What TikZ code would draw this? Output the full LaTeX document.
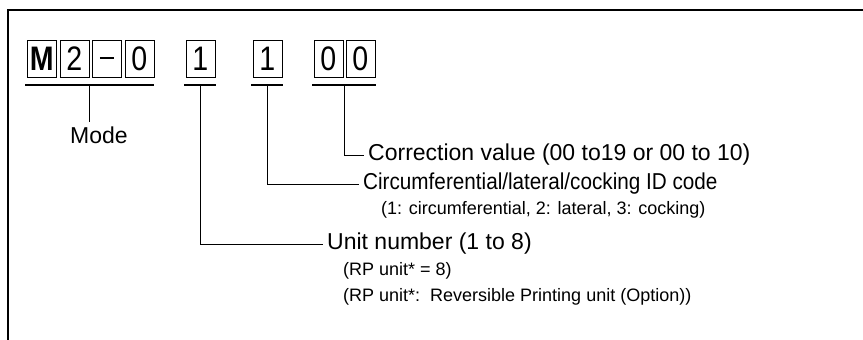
\documentclass[tikz,border=0pt]{standalone}
\usepackage{fontspec}
\setmainfont{Liberation Sans}
\usepackage{graphicx}
\newcommand{\cnd}[1]{\scalebox{0.84}[1]{#1}}
\newcommand{\hsc}[2]{\scalebox{#1}[1]{#2}}
\begin{document}
\begin{tikzpicture}[x=1pt,y=-1pt,
  charbox/.style={draw, line width=0.6pt, minimum width=29pt, minimum height=37pt, inner sep=0pt, anchor=north west, font=\fontsize{34}{34}\selectfont},
  uline/.style={line width=1.5pt},
  conn/.style={line width=0.6pt},
  frame/.style={line width=1.1pt},
  lbl/.style={anchor=west, inner sep=0pt, font=\fontsize{23}{27}\selectfont},
  sublbl/.style={anchor=west, inner sep=0pt, font=\fontsize{18}{21}\selectfont}
]
\useasboundingbox (0,0) rectangle (863,340);
% frame (top and left only)
\coordinate (ftl) at (8,10);
\coordinate (ftr) at (863,10);
\coordinate (fbl) at (8,340);
\draw[frame] (ftr) -- (ftl) -- (fbl);

% character boxes
\node[charbox] (bM) at (27,40) {\cnd{\textbf{M}}};
\node[charbox] (b2) at (59.5,40) {\cnd{2}};
\node[charbox] (bd) at (92,40) {\cnd{\vphantom{0}\rule[0.33em]{0.48em}{1.8pt}}};
\node[charbox] (b0) at (124.5,40) {\cnd{0}};
\node[charbox] (b1a) at (185.5,40) {\cnd{1}};
\node[charbox] (b1b) at (252.5,40) {\cnd{1}};
\node[charbox] (b00a) at (313.5,40) {\cnd{0}};
\node[charbox] (b00b) at (345.5,40) {\cnd{0}};

% underlines
\coordinate (u1l) at (25,85);  \coordinate (u1r) at (154,85);
\coordinate (u2l) at (184,85); \coordinate (u2r) at (216,85);
\coordinate (u3l) at (251,85); \coordinate (u3r) at (283,85);
\coordinate (u4l) at (312,85); \coordinate (u4r) at (376,85);
\draw[uline] (u1l) -- (u1r);
\draw[uline] (u2l) -- (u2r);
\draw[uline] (u3l) -- (u3r);
\draw[uline] (u4l) -- (u4r);

% labels
\node[lbl] (mode) at (70,135) {Mode};
\node[lbl] (corr) at (368,155) {Correction value (00 to19 or 00 to 10)};
\node[lbl] (circ) at (363,184) {\hsc{0.9}{Circumferential/lateral/cocking ID code}};
\node[sublbl] (circsub) at (381,210) {(1: circumferential, 2: lateral, 3: cocking)};
\node[lbl] (unit) at (327,244) {Unit number (1 to 8)};
\node[sublbl] (rp1) at (343,271) {(RP unit* = 8)};
\node[sublbl] (rp2) at (343,297) {(RP unit*:\ \ Reversible Printing unit (Option))};

% connectors
\coordinate (c1) at (89,85);
\coordinate (c2) at (200,85);
\coordinate (c3) at (267,85);
\coordinate (c4) at (344,85);
\coordinate (e1) at (89,122);
\coordinate (e2) at (323,244);
\coordinate (e3) at (359,184);
\coordinate (e4) at (364,155);
\draw[conn] (c1) -- (e1);
\draw[conn] (c2) |- (e2);
\draw[conn] (c3) |- (e3);
\draw[conn] (c4) |- (e4);
\end{tikzpicture}
\end{document}
